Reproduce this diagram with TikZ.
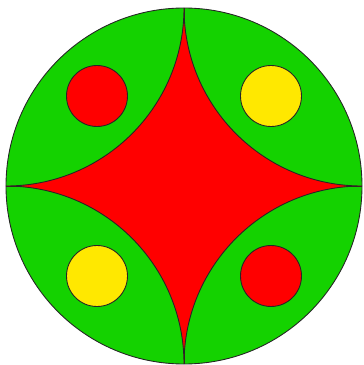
\documentclass[tikz,border=0pt]{standalone}
\usepackage{tikz}
\usepackage{xcolor}
\definecolor{disc-green}{RGB}{20,210,0}
\definecolor{disc-red}{RGB}{255,0,0}
\definecolor{disc-yellow}{RGB}{255,232,0}
\begin{document}
\begin{tikzpicture}[
  outline/.style={draw=black!85, line width=0.5pt},
  dot/.style={outline, circle, minimum size=1.22cm, inner sep=0pt},
]
  \useasboundingbox (0,0) rectangle (7.26,7.30);
  \def\R{3.56}
  \coordinate (mid) at (3.68,3.58);
  % big disc and the two diameters
  \fill[disc-green] (mid) circle (\R);
  \draw[outline] ([xshift=-\R cm]mid) -- ([xshift=\R cm]mid);
  \draw[outline] ([yshift=-\R cm]mid) -- ([yshift=\R cm]mid);
  % four-pointed star from quarter arcs
  \draw[outline, fill=disc-red] ([yshift=\R cm]mid)
    arc[start angle=0, end angle=-90, radius=\R]
    arc[start angle=90, end angle=0, radius=\R]
    arc[start angle=180, end angle=90, radius=\R]
    arc[start angle=270, end angle=180, radius=\R] -- cycle;
  % small discs
  \node[dot, fill=disc-red]    (topleft)  at ([shift={(-1.74,1.80)}]mid) {};
  \node[dot, fill=disc-yellow] (topright) at ([shift={(1.74,1.80)}]mid) {};
  \node[dot, fill=disc-yellow] (botleft)  at ([shift={(-1.74,-1.80)}]mid) {};
  \node[dot, fill=disc-red]    (botright) at ([shift={(1.74,-1.80)}]mid) {};
  \draw[outline] (mid) circle (\R);
\end{tikzpicture}
\end{document}
